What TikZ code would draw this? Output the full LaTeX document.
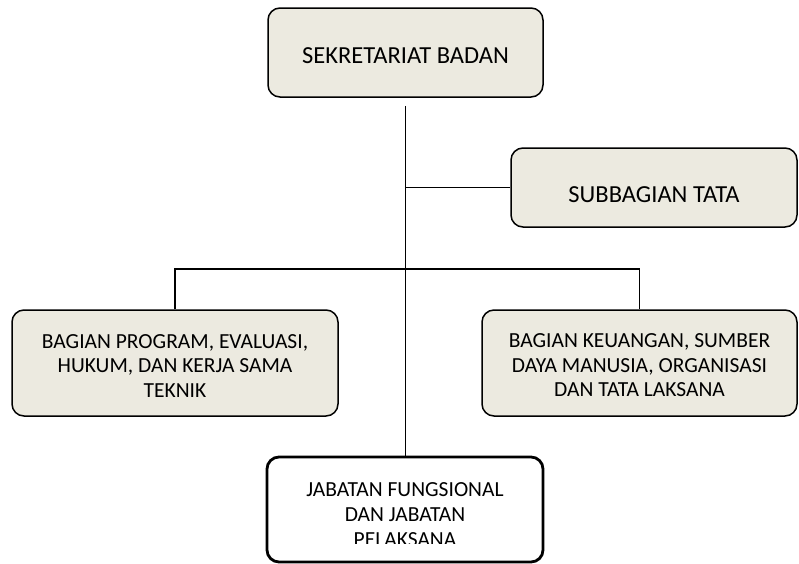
\documentclass[tikz,border=0pt]{standalone}
\usepackage{fontspec}
\setmainfont{Carlito}
\usetikzlibrary{positioning}
\definecolor{kotak}{RGB}{236,234,224}
\tikzset{
  unit/.style={draw, fill=kotak, rounded corners=12pt, line width=1.5pt,
    align=center, inner sep=0pt},
  jabatan/.style={draw, fill=white, rounded corners=12pt, line width=2.8pt},
  garis/.style={line width=1.5pt}
}

\begin{document}
\begin{tikzpicture}[x=1pt, y=-1pt]
\useasboundingbox (0,0) rectangle (799,563);
\def\bh{106}
\node[unit, minimum width=275pt, minimum height=89pt, text height=22pt, text depth=0pt,
  font=\fontsize{24.5}{28}\selectfont] (sekretariat) at (405.5,52.5) {SEKRETARIAT BADAN};
\node[unit, minimum width=286pt, minimum height=79pt, text height=29pt, text depth=0pt,
  font=\fontsize{24.5}{28}\selectfont] (subbagian) at (654,187.5) {SUBBAGIAN TATA};
\node[unit, minimum width=326pt, minimum height=\bh pt,
  font=\fontsize{21.5}{24.5}\selectfont] (program) at (175,363)
  {\rule{0pt}{19pt}BAGIAN PROGRAM, EVALUASI,\\HUKUM, DAN KERJA SAMA\\TEKNIK};
\node[unit, minimum width=315pt, minimum height=\bh pt,
  font=\fontsize{21.5}{24.5}\selectfont] (keuangan) at (639.5,363)
  {\rule{0pt}{19pt}BAGIAN KEUANGAN, SUMBER\\DAYA MANUSIA, ORGANISASI\\DAN TATA LAKSANA};
\node[jabatan, minimum width=276pt, minimum height=105pt] (fungsional) at (405,509.5) {};
\begin{scope}
\clip (267,457) rectangle (543,543.5);
\node[align=center, inner sep=0pt, font=\fontsize{21.5}{25}\selectfont] (fungsionalteks) at (405,515)
  {JABATAN FUNGSIONAL\\DAN JABATAN\\PELAKSANA};
\end{scope}
\coordinate (cabang) at (405.5,269);
\draw[garis, shorten <=8pt] (sekretariat.south) -- (sekretariat.south |- fungsional.north);
\draw[garis] (sekretariat.south |- subbagian.west) -- (subbagian.west);
\draw[garis] (program.north) |- (cabang) -| (keuangan.north);
\end{tikzpicture}
\end{document}
